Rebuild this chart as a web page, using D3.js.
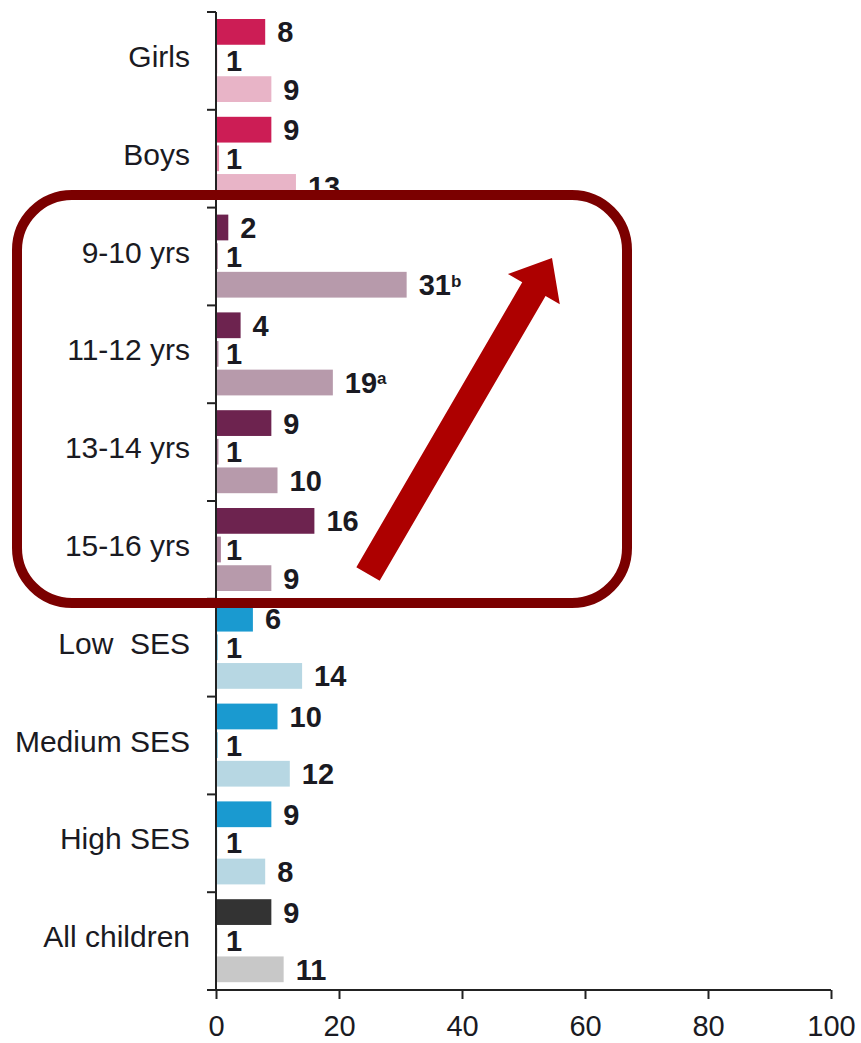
<!DOCTYPE html>
<html>
<head>
<meta charset="utf-8">
<script src="https://cdn.jsdelivr.net/npm/d3@7/dist/d3.min.js"></script>
<style>
  html, body { margin: 0; padding: 0; background: #fff; }
  svg { display: block; font-family: Arial, "Liberation Sans", sans-serif; }
  text { white-space: pre; }
</style>
</head>
<body>
<svg id="chart" width="861" height="1043"></svg>
<script>
// ---- data ----
const categories = ["Girls", "Boys", "9-10 yrs", "11-12 yrs", "13-14 yrs", "15-16 yrs", "Low  SES", "Medium SES", "High SES", "All children"];
const topValues    = [8, 9, 2, 4, 9, 16, 6, 10, 9, 9];
const midValues    = [0.2, 0.5, 0.3, 0.4, 0.4, 0.8, 0.3, 0.3, 0.2, 0.2];
const midLabels    = ["1", "1", "1", "1", "1", "1", "1", "1", "1", "1"];
const bottomValues = [9, 13, 31, 19, 10, 9, 14, 12, 8, 11];
const bottomSup    = ["", "", "b", "a", "", "", "", "", "", ""];
const groups       = ["sex", "sex", "age", "age", "age", "age", "ses", "ses", "ses", "all"];
const xTicks       = [0, 20, 40, 60, 80, 100];

const groupColors = {
  sex: { top: "#cc1d55", bottom: "#e8b4c7" },
  age: { top: "#6d234f", bottom: "#b79aab" },
  ses: { top: "#1a9ad0", bottom: "#b7d7e3" },
  all: { top: "#333333", bottom: "#c8c8c8" }
};

const svg = d3.select("#chart");
const x = d3.scaleLinear().domain([0, 100]).range([216, 831]);
const y = d3.scaleBand().domain(categories).range([12, 990]).padding(0);
const yi = d3.scaleBand().domain([0, 1, 2]).range([7, 90]).paddingInner(0.1);

const rows = categories.map((c, i) => ({ c, i, g: groups[i] }));

// bars
const series = [
  { k: 0, vals: topValues, col: g => groupColors[g].top },
  { k: 1, vals: midValues, col: g => groupColors[g].top },
  { k: 2, vals: bottomValues, col: g => groupColors[g].bottom }
];
series.forEach(s => {
  svg.append("g").selectAll("rect").data(rows).join("rect")
    .attr("x", x(0))
    .attr("y", d => y(d.c) + yi(s.k))
    .attr("width", d => x(s.vals[d.i]) - x(0))
    .attr("height", yi.bandwidth())
    .attr("fill", d => s.col(d.g))
    .attr("opacity", s.k === 1 ? 0.55 : 1);
});

// value labels
const lblFont = 29;
function addLabels(k, textFn, xFn, supFn) {
  const t = svg.append("g").selectAll("text").data(rows).join("text")
    .attr("x", xFn)
    .attr("y", d => y(d.c) + yi(k) + yi.bandwidth() / 2)
    .attr("dy", "0.36em")
    .attr("font-size", lblFont)
    .attr("font-weight", "bold")
    .attr("fill", "#1a1a22")
    .text(textFn);
  if (supFn) {
    t.filter(d => supFn(d) !== "").append("tspan")
      .attr("dy", "-0.5em")
      .attr("font-size", 17)
      .text(supFn);
  }
}
addLabels(0, d => String(topValues[d.i]), d => x(topValues[d.i]) + 12);
addLabels(1, d => midLabels[d.i], d => x(0) + 10);
addLabels(2, d => String(bottomValues[d.i]), d => x(bottomValues[d.i]) + 12, d => bottomSup[d.i]);

// category labels
svg.append("g").selectAll("text").data(categories).join("text")
  .attr("x", 190)
  .attr("y", d => y(d) + y.bandwidth() / 2 + 6)
  .attr("text-anchor", "end")
  .attr("font-size", 30)
  .attr("fill", "#1a1a22")
  .text(d => d);

// y axis line and boundary ticks
const boundaries = categories.map(c => y(c)).concat([y.range()[1]]);
const axisG = svg.append("g").attr("stroke", "#222").attr("stroke-width", 2);
axisG.append("line").attr("x1", x(0)).attr("x2", x(0)).attr("y1", 12).attr("y2", 990);
axisG.selectAll("line.tk").data(boundaries).join("line").attr("class", "tk")
  .attr("x1", x(0) - 9).attr("x2", x(0)).attr("y1", d => d).attr("y2", d => d);

// x axis
const xAxis = d3.axisBottom(x).tickValues(xTicks).tickSize(9).tickPadding(16);
const xg = svg.append("g").attr("transform", "translate(0,990)").call(xAxis);
xg.select(".domain").attr("stroke", "#222").attr("stroke-width", 2).attr("d", `M${x(0)},0H${x(100)}`);
xg.selectAll(".tick line").attr("stroke", "#222").attr("stroke-width", 2);
xg.selectAll(".tick text").attr("font-size", 29).attr("fill", "#1a1a22").attr("font-family", "Arial, 'Liberation Sans', sans-serif");

// highlight box
svg.append("rect")
  .attr("x", 17).attr("y", 195).attr("width", 610).attr("height", 408)
  .attr("rx", 55).attr("ry", 55)
  .attr("fill", "none").attr("stroke", "#7b0000").attr("stroke-width", 10);

// arrow
(function () {
  const tail = [368, 574], tip = [552, 258];
  const dx = tip[0] - tail[0], dy = tip[1] - tail[1];
  const L = Math.hypot(dx, dy);
  const ux = dx / L, uy = dy / L, px = -uy, py = ux;
  const sw = 13.5, hw = 30, hl = 36;
  const bx = tip[0] - ux * hl, by = tip[1] - uy * hl;
  const pts = [
    [tail[0] + px * sw, tail[1] + py * sw],
    [bx + px * sw, by + py * sw],
    [bx + px * hw, by + py * hw],
    tip,
    [bx - px * hw, by - py * hw],
    [bx - px * sw, by - py * sw],
    [tail[0] - px * sw, tail[1] - py * sw]
  ];
  svg.append("path").attr("d", d3.line()(pts) + "Z").attr("fill", "#ad0000");
})();
</script>
</body>
</html>
